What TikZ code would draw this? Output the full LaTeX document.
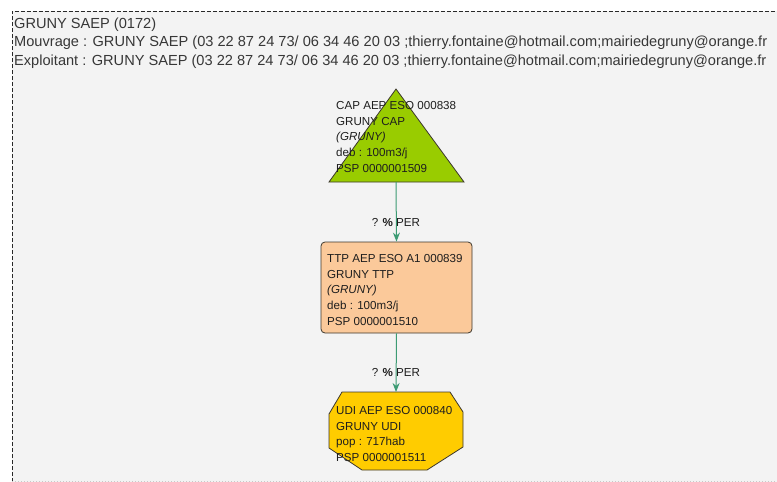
\documentclass[tikz,border=0pt]{standalone}
\usepackage{fontspec}
\setmainfont{Liberation Sans}
\usetikzlibrary{arrows.meta}

\definecolor{pagebg}{RGB}{243,243,243}
\definecolor{framecol}{RGB}{40,40,40}
\definecolor{hdrtext}{RGB}{55,55,55}
\definecolor{nodetext}{RGB}{30,30,30}
\definecolor{capgreen}{RGB}{153,204,0}
\definecolor{ttppeach}{RGB}{251,201,154}
\definecolor{udigold}{RGB}{255,204,0}
\definecolor{flowgreen}{RGB}{60,155,115}
\definecolor{edgegray}{RGB}{60,55,45}

\tikzset{
  framestyle/.style={draw=framecol, line width=0.8pt, dash pattern=on 4pt off 2pt},
  hdr/.style={inner sep=0pt, text=hdrtext, font=\fontsize{14.6}{19}\selectfont},
  shapeline/.style={draw=edgegray, line width=0.8pt},
  ttpbox/.style={shapeline, fill=ttppeach, rounded corners=4pt, minimum width=151pt, minimum height=91pt, inner sep=0pt},
  nodetxt/.style={inner sep=0pt, text=nodetext, align=left, font=\fontsize{11.6}{15.8}\selectfont},
  flow/.style={draw=flowgreen, line width=1pt, -{Stealth[length=9pt,width=7pt]}},
  flowlabel/.style={inner sep=0pt, text=nodetext, font=\fontsize{11.6}{14}\selectfont}
}

\begin{document}
\begin{tikzpicture}[x=1pt,y=-1pt]
  \clip (0,0) rectangle (777,482);
  \fill[white] (0,0) rectangle (777,482);
  \fill[pagebg] (12,11) rectangle (777,482);

  % dashed frame of the scheme
  \draw[framestyle] (12,482) -- (12,11) -- (790,11);
  \draw[draw=framecol!25, line width=0.6pt, dash pattern=on 1pt off 2pt] (12,481) -- (790,481);

  % header
  \node[hdr, anchor=base west] (title) at (14,28.5) {GRUNY SAEP (0172)};
  \node[hdr, anchor=base west] (moa) at (14,46) {Mouvrage : GRUNY SAEP (03 22 87 24 73/ 06 34 46 20 03 ;thierry.fontaine@hotmail.com;mairiedegruny@orange.fr};
  \node[hdr, anchor=base west] (expl) at (14,65.5) {Exploitant : GRUNY SAEP (03 22 87 24 73/ 06 34 46 20 03 ;thierry.fontaine@hotmail.com;mairiedegruny@orange.fr};

  % capture (triangle)
  \draw[shapeline, fill=capgreen] (396,89) -- (464,182) -- (329,182) -- cycle;
  \coordinate (capbase) at (396,182);
  \node[nodetxt, anchor=north west] (captxt) at (336,101)
    {CAP AEP ESO 000838\\GRUNY CAP\\\textit{(GRUNY)}\\deb : 100m3/j\\PSP 0000001509};

  % treatment (rounded box)
  \node[ttpbox] (ttp) at (396.5,287.5) {};
  \begin{scope}
    \clip ([xshift=1pt,yshift=-1pt]ttp.north west) rectangle ([xshift=-2pt,yshift=1pt]ttp.south east);
    \node[nodetxt, anchor=north west] (ttptxt) at (327,254)
      {TTP AEP ESO A1 000839\\GRUNY TTP\\\textit{(GRUNY)}\\deb : 100m3/j\\PSP 0000001510};
  \end{scope}

  % distribution unit (octagon)
  \draw[shapeline, fill=udigold] (342,392) -- (450,392) -- (463,412) -- (463,447)
    -- (427,470) -- (362,470) -- (329,448) -- (329,414) -- cycle;
  \coordinate (uditop) at (396,392);
  \node[nodetxt, anchor=north west] (uditxt) at (336,406)
    {UDI AEP ESO 000840\\GRUNY UDI\\pop : 717hab\\PSP 0000001511};

  % flows
  \draw[flow] (capbase) -- (ttp.north);
  \node[flowlabel] (flow1) at (396,222.5) {? \textbf{\%} PER};
  \draw[flow] (ttp.south) -- (uditop);
  \node[flowlabel] (flow2) at (396,372.5) {? \textbf{\%} PER};
\end{tikzpicture}
\end{document}
